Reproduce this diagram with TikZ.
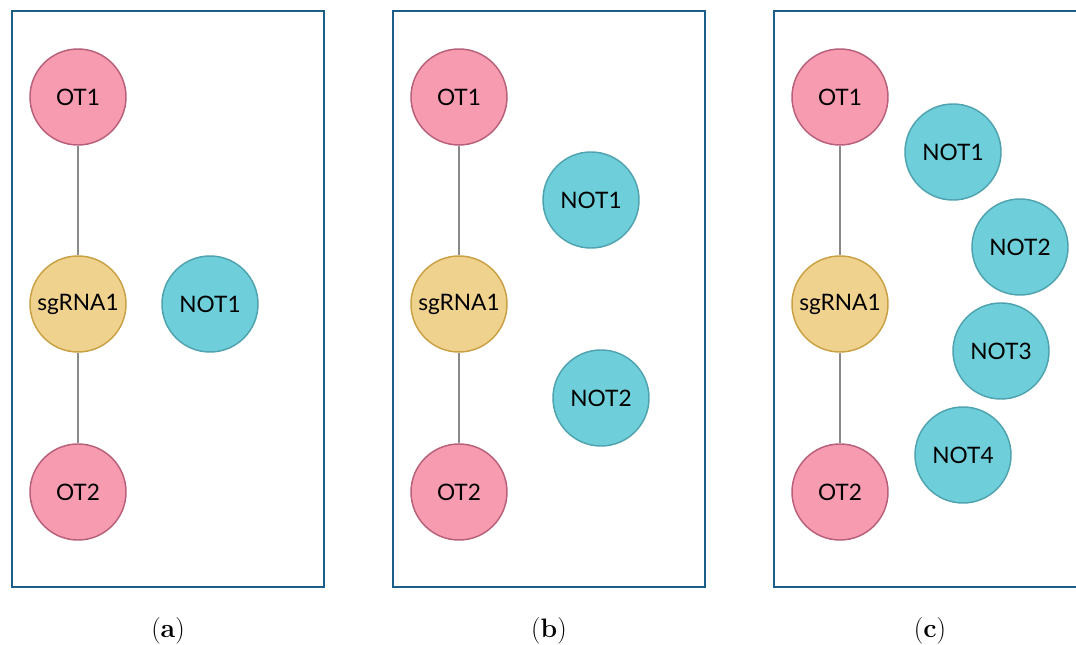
\documentclass[tikz,border=0pt]{standalone}
\usepackage{fontspec}
\newfontfamily\latofont{Lato}
\definecolor{boxblue}{HTML}{1B5E8A}
\definecolor{otfill}{HTML}{F79BB1}
\definecolor{otline}{HTML}{B8607A}
\definecolor{sgfill}{HTML}{F0D28F}
\definecolor{sgline}{HTML}{C9A043}
\definecolor{notfill}{HTML}{6ECFDA}
\definecolor{notline}{HTML}{4FA3AE}
\definecolor{edgegray}{HTML}{8A8A8A}
\tikzset{
    vertex/.style={circle,minimum size=72pt,inner sep=0pt,line width=1.1pt,
        font=\latofont\fontsize{17}{20}\selectfont},
    otnode/.style={vertex,draw=otline,fill=otfill},
    sgnode/.style={vertex,draw=sgline,fill=sgfill},
    notnode/.style={vertex,draw=notline,fill=notfill},
    panel/.style={draw=boxblue,line width=1.5pt},
    link/.style={draw=edgegray,line width=1.1pt},
}
\begin{document}
\begin{tikzpicture}[x=0.75pt,y=-0.75pt]
    \useasboundingbox (0,0) rectangle (1076,645);
    % common part of the three panels
    \foreach \p/\dx in {a/0,b/381,c/762}{
        \draw[panel] (12+\dx,11) rectangle (324+\dx,587);
        \node[otnode] (\p-ot1) at (78+\dx,97) {OT1};
        \node[sgnode] (\p-sg) at (78+\dx,304) {sgRNA1};
        \node[otnode] (\p-ot2) at (78+\dx,492) {OT2};
        \draw[link] (\p-ot1) -- (\p-sg);
        \draw[link] (\p-sg) -- (\p-ot2);
        \node[font=\fontsize{20}{24}\selectfont] (\p-cap) at (168+\dx,631) {(\textbf{\p})};
    }
    % non-target nodes
    \node[notnode] (a-not1) at (210,304) {NOT1};
    \node[notnode] (b-not1) at (591,200) {NOT1};
    \node[notnode] (b-not2) at (601,398) {NOT2};
    \node[notnode] (c-not1) at (953,152) {NOT1};
    \node[notnode] (c-not2) at (1020,247) {NOT2};
    \node[notnode] (c-not3) at (1001,351) {NOT3};
    \node[notnode] (c-not4) at (963,455) {NOT4};
\end{tikzpicture}
\end{document}
